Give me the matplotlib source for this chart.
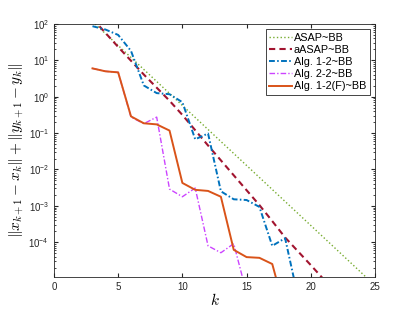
import numpy as np
import matplotlib
matplotlib.use("Agg")
import matplotlib.pyplot as plt
from matplotlib.ticker import LogLocator, NullFormatter

# iteration counters
k_green = list(range(3, 26))
k_red = list(range(3, 22))
k_blue = list(range(3, 20))
k_mag = list(range(3, 16))
k_org = list(range(3, 19))

# log10 of the residual
log_asap = [2.07, 1.74, 1.41, 1.08, 0.75, 0.42, 0.09, -0.24, -0.57, -0.90, -1.23, -1.56,
            -1.89, -2.22, -2.55, -2.88, -3.21, -3.54, -3.87, -4.20, -4.53, -4.86, -5.19]
log_aasap = [2.15, 1.76, 1.37, 0.99, 0.61, 0.25, -0.11, -0.50, -0.92, -1.34, -1.75, -2.16,
             -2.57, -2.98, -3.42, -3.87, -4.25, -4.63, -5.02]
log_alg12 = [1.94, 1.85, 1.70, 1.26, 0.31, 0.10, 0.07, -0.15, -1.17, -1.01, -2.60, -2.82,
             -2.84, -3.03, -4.10, -3.89, -5.5]
log_alg22 = [0.78, 0.70, 0.67, -0.56, -0.74, -0.56, -2.54, -2.75, -2.51, -4.10, -4.29, -4.04, -5.4]
log_alg12f = [0.78, 0.70, 0.67, -0.54, -0.73, -0.76, -0.93, -2.37, -2.56, -2.59, -2.75, -4.21,
              -4.41, -4.43, -4.60, -5.9]

labels = ["ASAP~BB", "aASAP~BB", "Alg. 1-2~BB", "Alg. 2-2~BB", "Alg. 1-2(F)~BB"]

plt.rcParams["font.family"] = ["Liberation Sans", "DejaVu Sans"]
plt.rcParams["mathtext.fontset"] = "cm"

fig = plt.figure(figsize=(4.15, 3.12), dpi=100)
ax = fig.add_axes([0.130, 0.112, 0.7736, 0.811])

ax.semilogy(k_green, 10 ** np.array(log_asap), ':', color="#77AC30", lw=1.0, label=labels[0])
ax.semilogy(k_red, 10 ** np.array(log_aasap), color="#A2142F", lw=1.5, dashes=(3, 2),
            label=labels[1])
ax.semilogy(k_blue, 10 ** np.array(log_alg12), color="#0072BD", lw=1.4,
            dashes=(3, 1.2, 0.8, 1.2), label=labels[2])
ax.semilogy(k_mag, 10 ** np.array(log_alg22), color="#CC44FF", lw=1.0,
            dashes=(4, 1.5, 1, 1.5), label=labels[3])
ax.semilogy(k_org, 10 ** np.array(log_alg12f), '-', color="#D95319", lw=1.4, label=labels[4])

ax.set_xlim(0, 25)
ax.set_ylim(1.1e-5, 100)
ax.set_xticks([0, 5, 10, 15, 20, 25])
ax.set_yticks([1e-4, 1e-3, 1e-2, 1e-1, 1e0, 1e1, 1e2])
ax.yaxis.set_minor_locator(LogLocator(base=10, subs=np.arange(2, 10), numticks=20))
ax.yaxis.set_minor_formatter(NullFormatter())
ax.tick_params(which="both", direction="in", top=True, right=True, colors="#262626",
               labelsize=7, length=3)
ax.tick_params(which="minor", length=1.5)
for s in ax.spines.values():
    s.set_color("#262626")
    s.set_linewidth(0.6)

ax.set_xlabel("$k$", fontsize=11, labelpad=0)
ax.set_ylabel(r"$\|x_{k+1}-x_k\|+\|y_{k+1}-y_k\|$", fontsize=11)
ax.yaxis.set_label_coords(-0.087, 0.5)

leg = ax.legend(loc="upper right", fontsize=7.8, fancybox=False, framealpha=1,
                edgecolor="#262626", handlelength=2.1, handletextpad=0.2,
                labelspacing=0.2, borderpad=0.3, borderaxespad=0.5)
leg.get_frame().set_linewidth(0.6)

fig.savefig("out.png", dpi=100)
